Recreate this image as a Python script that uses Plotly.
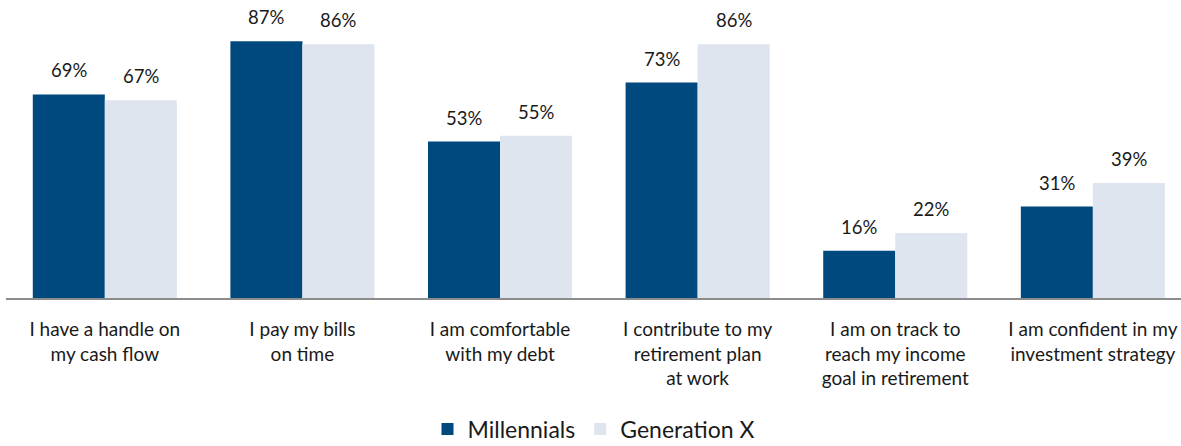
import plotly.graph_objects as go

categories = [
    "I have a handle on<br>my cash flow",
    "I pay my bills<br>on time",
    "I am comfortable<br>with my debt",
    "I contribute to my<br>retirement plan<br>at work",
    "I am on track to<br>reach my income<br>goal in retirement",
    "I am confident in my<br>investment strategy",
]
millennials = [69, 87, 53, 73, 16, 31]
generation_x = [67, 86, 55, 86, 22, 39]

DARK = "#00497F"
LIGHT = "#DEE5EE"
FONT = "Lato"

fig = go.Figure()
fig.add_trace(go.Bar(name="Millennials", x=categories, y=millennials,
                     marker=dict(color=DARK, line=dict(width=0))))
fig.add_trace(go.Bar(name="Generation X", x=categories, y=generation_x,
                     marker=dict(color=LIGHT, line=dict(width=0))))

# percentage labels above each bar
for series, offset in ((millennials, -0.182), (generation_x, 0.182)):
    for i, v in enumerate(series):
        fig.add_annotation(x=i + offset, y=v, text=f"{v}%", showarrow=False,
                           yshift=24, font=dict(family=FONT, size=18.5, color="#1a1a1a"),
                           xref="x", yref="y")

fig.update_layout(
    width=1181, height=446,
    margin=dict(l=6, r=0, t=0, b=148, autoexpand=False),
    paper_bgcolor="white", plot_bgcolor="white",
    barmode="group", bargap=0.271, bargroupgap=0,
    font=dict(family=FONT, size=19.5, color="#1a1a1a"),
    showlegend=True,
    legend=dict(orientation="h", x=0.5, xanchor="center", y=-0.44, yanchor="middle",
                font=dict(family=FONT, size=23, color="#1a1a1a"),
                itemwidth=30, traceorder="normal"),
)
fig.update_xaxes(
    range=[-0.5, 5.446], showline=True, linecolor="#8c8c8c", linewidth=2,
    ticks="", ticklabelstandoff=13, showgrid=False, zeroline=False, automargin=False,
    tickfont=dict(family=FONT, size=19, color="#1a1a1a"),
)
fig.update_yaxes(range=[0, 101], visible=False, showgrid=False, zeroline=False,
                 automargin=False)

fig.write_html("out.html")
